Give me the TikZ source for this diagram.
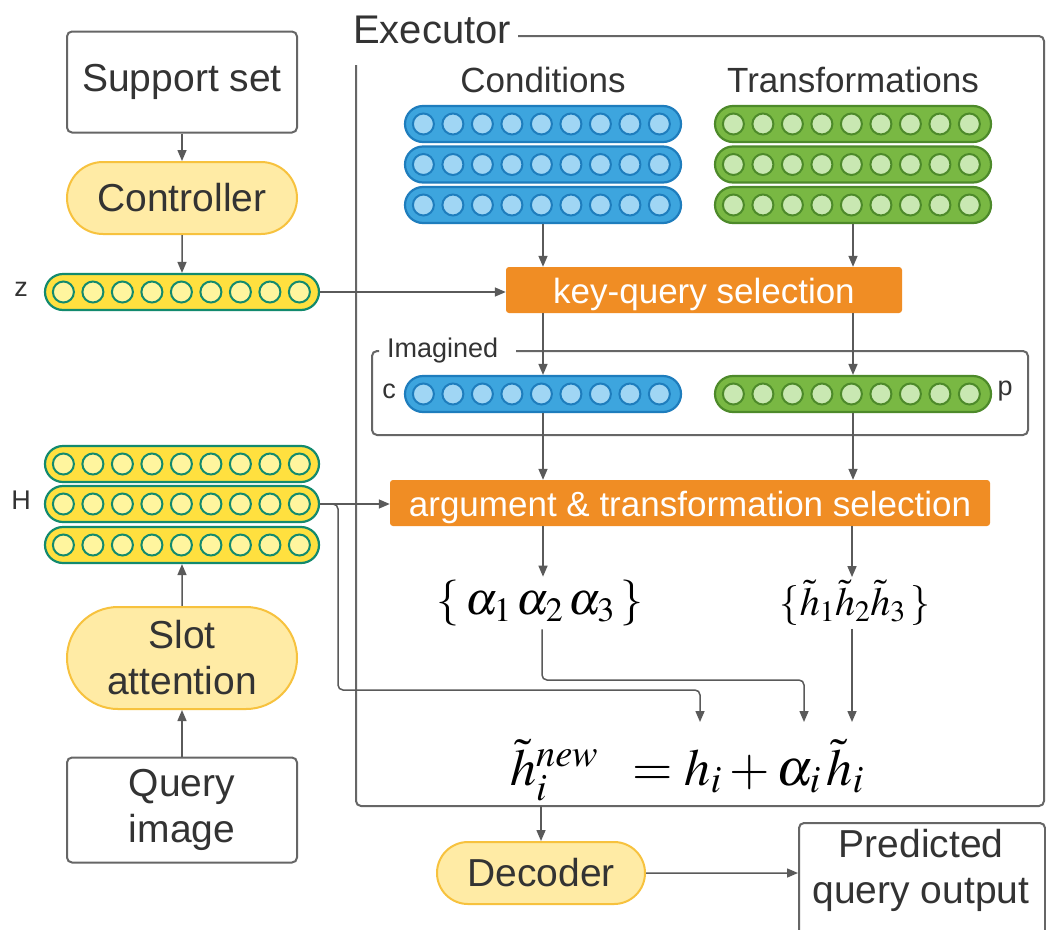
\documentclass[tikz,border=0pt]{standalone}
\usepackage{mathptmx}
\usepackage{fontspec}
\setmainfont{Liberation Sans}
\usetikzlibrary{arrows.meta,shapes.misc,calc}
\definecolor{ln}{HTML}{5A5A5A}
\definecolor{frm}{HTML}{666666}
\definecolor{txt}{HTML}{333333}
\definecolor{bfill}{HTML}{3DA5DE}
\definecolor{bcirc}{HTML}{A0D6F4}
\definecolor{bdraw}{HTML}{1E7DBD}
\definecolor{gfill}{HTML}{79B843}
\definecolor{gcirc}{HTML}{C9E8B2}
\definecolor{gdraw}{HTML}{4D8A2A}
\definecolor{yfill}{HTML}{FFE03F}
\definecolor{ycirc}{HTML}{FFF59E}
\definecolor{ydraw}{HTML}{128A6E}
\definecolor{orng}{HTML}{F08D24}
\definecolor{pfill}{HTML}{FFEBA5}
\definecolor{pdraw}{HTML}{F7C23E}
\tikzset{
  big/.style={text=txt, font=\fontsize{39}{46}\selectfont, align=center},
  mid/.style={text=txt, font=\fontsize{35}{40}\selectfont},
  small/.style={text=txt, font=\fontsize{27}{30}\selectfont, inner sep=0},
  boxnode/.style={big, draw=frm, line width=2pt, rounded corners=5pt, fill=white, inner sep=0},
  pill/.style={big, rounded rectangle, draw=pdraw, fill=pfill, line width=2pt, inner sep=0},
  vecrow/.style={rounded rectangle, minimum height=36, inner sep=0, line width=2.2pt},
  vcirc/.style={circle, minimum size=21, inner sep=0, line width=2pt},
  sel/.style={fill=orng, rounded corners=3pt, text=white, font=\fontsize{35}{40}\selectfont, minimum height=46, inner sep=0, text height=34, text depth=7},
  frame/.style={draw=frm, line width=2pt, rounded corners=5pt},
  arr/.style={draw=ln, line width=1.5pt, -{Triangle[length=11pt,width=9pt]}},
}
\newcommand\vrow[5]{%
  \node[vecrow, fill=#4fill, draw=#4draw, minimum width=#5] (#1) at (#2,#3) {};
  \foreach \k in {0,...,8}{\node[vcirc, fill=#4circ, draw=#4draw] (#1-\k) at ($(#1.west)+({19.5+\k*29.5},0)$) {};}%
}
\begin{document}
\begin{tikzpicture}[x=1pt,y=-1pt]
\clip (0,0) rectangle (1046,929);
\fill[white] (0,0) rectangle (1046,929);
% left column
\node[boxnode, minimum width=230, minimum height=101] (support) at (182,82) {Support set};
\node[pill, minimum width=230, minimum height=72] (ctrl) at (182,198) {Controller};
\vrow{z}{182}{292}{y}{274}
\node[small] (zlab) at (21,289) {z};
\vrow{h1}{182}{464}{y}{274}
\vrow{h2}{182}{504}{y}{274}
\vrow{h3}{182}{545}{y}{274}
\node[small] (hlab) at (21,500) {H};
\node[pill, minimum width=230, minimum height=102] (slot) at (182,658) {Slot\\attention};
\node[boxnode, minimum width=230, minimum height=105] (query) at (182,810) {Query\\image};
% executor frame
\node[big, anchor=west, inner sep=0, font=\fontsize{40}{46}\selectfont] (exec) at (353,30) {Executor};
\draw[frame] (518,36) -- (1044,36) -- (1044,806) -- (356,806) -- (356,65);
\node[mid] (condlab) at (543,80) {Conditions};
\node[mid] (translab) at (853,80) {Transformations};
\vrow{cond1}{543}{124}{b}{276}
\vrow{cond2}{543}{164.5}{b}{276}
\vrow{cond3}{543}{205}{b}{276}
\vrow{tr1}{853}{124}{g}{276}
\vrow{tr2}{853}{164.5}{g}{276}
\vrow{tr3}{853}{205}{g}{276}
\node[sel, minimum width=396] (kq) at (704,290) {key-query selection};
% imagined
\draw[frame] (516,351) -- (1028,351) -- (1028,435) -- (372,435) -- (372,351) -- (379,351);
\node[small, anchor=west] (imag) at (387,351) {Imagined};
\vrow{cv}{543}{394}{b}{276}
\vrow{pv}{853}{394}{g}{276}
\node[small] (clab) at (389,391) {c};
\node[small] (plab) at (1005,391) {p};
\node[sel, minimum width=600] (arg) at (690,503) {argument \& transformation selection};
\node[text=black, font=\fontsize{46}{50}\selectfont] (alphas) at (540,603) {$\{\,\alpha_1\,\alpha_2\,\alpha_3\,\}$};
\node[text=black, font=\fontsize{40}{44}\selectfont] (htildes) at (855,603) {$\{\tilde h_1\tilde h_2\tilde h_3\,\}$};
\node[text=black, font=\fontsize{52}{56}\selectfont, anchor=base west, inner sep=0] (formula) at (510,785) {$\tilde h_i^{new}\;\;= h_i + \alpha_i\,\tilde h_i$};
\coordinate (thi) at (700,722);
\coordinate (tai) at (804,722);
\coordinate (tht) at (852,722);
\coordinate (hbend) at (338,690);
\coordinate (abend) at (542,680);
\coordinate (exb) at (541,806);
% bottom
\node[pill, minimum width=208, minimum height=62] (dec) at (541,873) {Decoder};
\node[boxnode, minimum width=246, minimum height=124] (pred) at (922,885) {};
\node[big] (predtxt) at (921,870) {Predicted\\query output};
% arrows
\draw[arr] (support) -- (ctrl);
\draw[arr] (ctrl) -- (z);
\draw[arr] (z.east) -- (z.east -| kq.west);
\draw[arr] (cond3.south) -- (cond3.south |- kq.north);
\draw[arr] (tr3.south) -- (tr3.south |- kq.north);
\draw[arr] (kq.south -| cv) -- (cv.north);
\draw[arr] (kq.south -| pv) -- (pv.north);
\draw[arr] (cv.south) -- (cv.south |- arg.north);
\draw[arr] (pv.south) -- (pv.south |- arg.north);
\draw[arr] (h2.east) -- (h2.east -| arg.west);
\draw[arr, rounded corners=5pt] (h2.east) -- (h2.east -| hbend) -- (hbend) -- (hbend -| thi) -- (thi);
\draw[arr] (arg.south -| cond3) -- (cond3 |- alphas.north);
\draw[arr] (arg.south -| tht) -- (tht |- htildes.north);
\draw[arr, rounded corners=5pt] (alphas.south -| abend) -- (abend) -- (abend -| tai) -- (tai);
\draw[arr] (htildes.south -| tht) -- (tht);
\draw[arr] (query) -- (slot);
\draw[arr] (slot) -- (h3);
\draw[arr] (exb) -- (dec);
\draw[arr] (dec) -- (dec.east -| pred.west);
\end{tikzpicture}
\end{document}
